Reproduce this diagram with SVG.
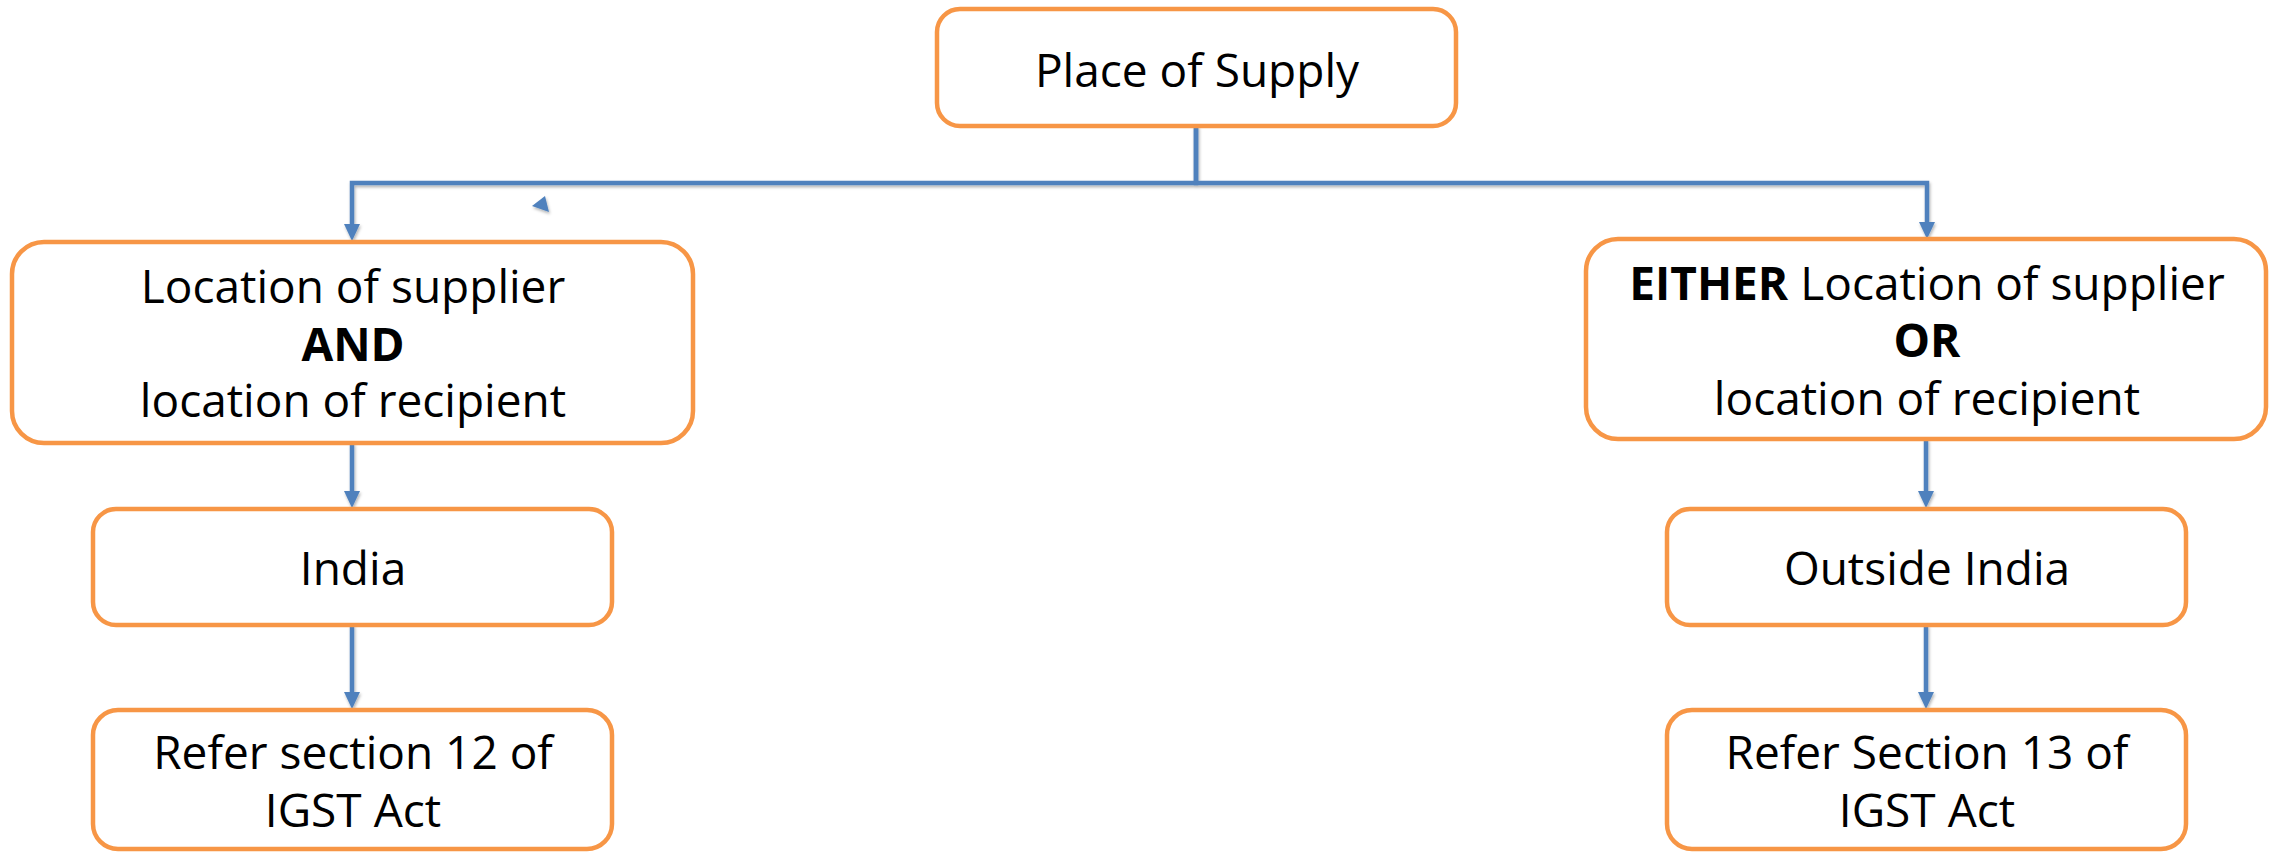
<svg xmlns="http://www.w3.org/2000/svg" width="2279" height="853" viewBox="0 0 2279 853">
  <style>
    .box { fill: #ffffff; stroke: #F79646; stroke-width: 4.5; }
    .t { font-family: "Open Sans", "Noto Sans", "Liberation Sans", sans-serif; font-size: 46px; fill: #000000; text-anchor: middle; }
    .b { font-weight: 700; }
    .conn { fill: none; stroke: #4F81BD; stroke-width: 4.5; }
  </style>
  <defs>
    <marker id="arrow" markerUnits="userSpaceOnUse" markerWidth="17" markerHeight="17" refX="0" refY="8" orient="auto">
      <path d="M0,0 L17,8 L0,16 z" fill="#4F81BD"/>
    </marker>
    <filter id="shadow" x="-5%" y="-5%" width="110%" height="110%">
      <feDropShadow dx="1" dy="2" stdDeviation="1.5" flood-color="#000000" flood-opacity="0.3"/>
    </filter>
  </defs>
  <rect width="2279" height="853" fill="#ffffff"/>

  <g id="connectors" filter="url(#shadow)">
    <path class="conn" d="M1196,126 V183 H352 V224" marker-end="url(#arrow)"/>
    <path class="conn" d="M1196,126 V183 H1927 V222" marker-end="url(#arrow)"/>
    <path class="conn" d="M352,443 V491" marker-end="url(#arrow)"/>
    <path class="conn" d="M352,625 V692" marker-end="url(#arrow)"/>
    <path class="conn" d="M1926,439 V491" marker-end="url(#arrow)"/>
    <path class="conn" d="M1926,625 V692" marker-end="url(#arrow)"/>
    <polygon points="532,206 545,196 549,212" fill="#4F81BD"/>
  </g>

  <g id="place-of-supply">
    <rect class="box" x="937" y="9" width="519" height="117" rx="23" ry="23"/>
    <text class="t" x="1197" y="87">Place of Supply</text>
  </g>

  <g id="both-location">
    <rect class="box" x="12" y="242" width="681" height="201" rx="32" ry="32"/>
    <text class="t" x="353" y="303">Location of supplier</text>
    <text class="t b" x="353" y="361">AND</text>
    <text class="t" x="353" y="417">location of recipient</text>
  </g>

  <g id="either-location">
    <rect class="box" x="1586" y="239" width="680" height="200" rx="32" ry="32"/>
    <text class="t" x="1927" y="300"><tspan class="b">EITHER</tspan> Location of supplier</text>
    <text class="t b" x="1927" y="357">OR</text>
    <text class="t" x="1927" y="415">location of recipient</text>
  </g>

  <g id="india">
    <rect class="box" x="93" y="509" width="519" height="116" rx="23" ry="23"/>
    <text class="t" x="353" y="585">India</text>
  </g>

  <g id="outside-india">
    <rect class="box" x="1667" y="509" width="519" height="116" rx="23" ry="23"/>
    <text class="t" x="1927" y="585">Outside India</text>
  </g>

  <g id="section-12">
    <rect class="box" x="93" y="710" width="519" height="139" rx="25" ry="25"/>
    <text class="t" x="353" y="769">Refer section 12 of</text>
    <text class="t" x="353" y="827">IGST Act</text>
  </g>

  <g id="section-13">
    <rect class="box" x="1667" y="710" width="519" height="139" rx="25" ry="25"/>
    <text class="t" x="1927" y="769">Refer Section 13 of</text>
    <text class="t" x="1927" y="827">IGST Act</text>
  </g>
</svg>
